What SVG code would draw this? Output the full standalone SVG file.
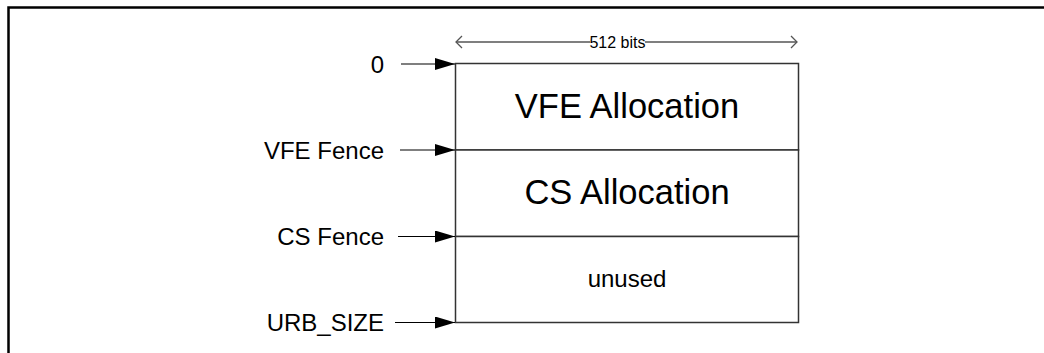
<svg xmlns="http://www.w3.org/2000/svg" width="1044" height="353" viewBox="0 0 1044 353">
  <style>
    .lbl { font-family: "Liberation Sans", Arial, sans-serif; font-size: 24px; fill: #000; }
    .big { font-family: "Liberation Sans", Arial, sans-serif; font-size: 34.5px; fill: #000; }
    .mid { font-family: "Liberation Sans", Arial, sans-serif; font-size: 24px; fill: #000; }
    .dim { font-family: "Liberation Sans", Arial, sans-serif; font-size: 16px; fill: #000; }
    .ptr { stroke: #000; stroke-width: 1.2; fill: none; }
    .part { fill: #fff; stroke: #333; stroke-width: 1.5; }
    .dimline { stroke: #555; stroke-width: 1.3; fill: none; }
  </style>
  <defs>
    <marker id="tri" viewBox="0 0 20 12" refX="20" refY="6" markerWidth="20" markerHeight="12" markerUnits="userSpaceOnUse" orient="auto">
      <path d="M0,0 L20,6 L0,12 Z" fill="#000"/>
    </marker>
  </defs>

  <rect width="1044" height="353" fill="#fff"/>

  <!-- page frame -->
  <path d="M8.5,353 V7.5 H1044" fill="none" stroke="#000" stroke-width="2.5"/>

  <!-- width dimension -->
  <g id="width-dim">
    <path class="dimline" d="M456,42 H590 M645,42 H797"/>
    <path class="dimline" d="M462,36 L456,42 L462,48 M791,36 L797,42 L791,48"/>
    <text class="dim" x="617.5" y="47.5" text-anchor="middle">512 bits</text>
  </g>

  <!-- memory regions -->
  <g id="vfe-allocation">
    <rect class="part" x="455.5" y="63.5" width="343" height="86.5"/>
    <text class="big" x="627" y="118" text-anchor="middle">VFE Allocation</text>
  </g>
  <g id="cs-allocation">
    <rect class="part" x="455.5" y="150" width="343" height="86.5"/>
    <text class="big" x="627" y="204" text-anchor="middle">CS Allocation</text>
  </g>
  <g id="unused">
    <rect class="part" x="455.5" y="236.5" width="343" height="86"/>
    <text class="mid" x="627" y="287" text-anchor="middle">unused</text>
  </g>

  <!-- boundary labels -->
  <g id="label-0"><text class="lbl" x="384" y="72.5" text-anchor="end">0</text></g>
  <g id="label-vfe-fence"><text class="lbl" x="384" y="158.5" text-anchor="end">VFE Fence</text></g>
  <g id="label-cs-fence"><text class="lbl" x="384" y="245" text-anchor="end">CS Fence</text></g>
  <g id="label-urb-size"><text class="lbl" x="384" y="331" text-anchor="end">URB_SIZE</text></g>

  <!-- pointers -->
  <g id="connectors">
    <line class="ptr" x1="401" y1="64" x2="455" y2="64" marker-end="url(#tri)"/>
    <line class="ptr" x1="400" y1="150" x2="455" y2="150" marker-end="url(#tri)"/>
    <line class="ptr" x1="398" y1="236.5" x2="455" y2="236.5" marker-end="url(#tri)"/>
    <line class="ptr" x1="395" y1="322.5" x2="455" y2="322.5" marker-end="url(#tri)"/>
  </g>
</svg>
